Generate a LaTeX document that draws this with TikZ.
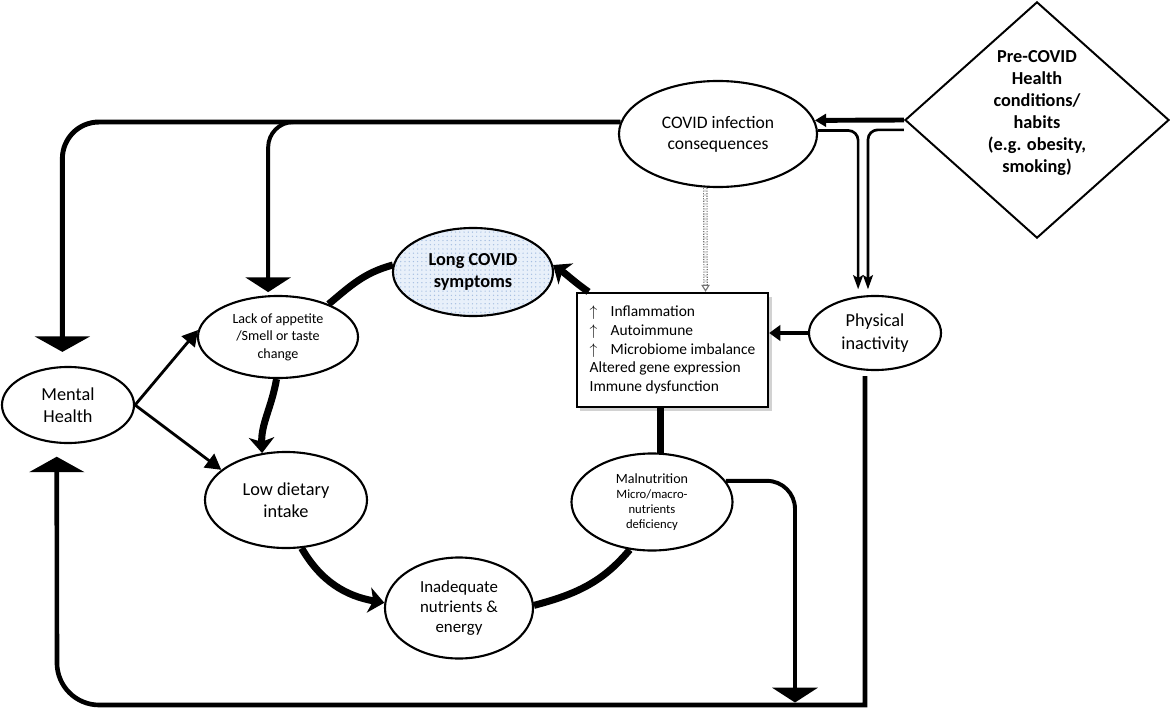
\documentclass[tikz,border=0pt]{standalone}
\usepackage{fontspec}
\setmainfont{Carlito}
\usetikzlibrary{shapes.geometric, arrows.meta, shadows, patterns}
\definecolor{dotblue}{RGB}{232,240,250}
\definecolor{dotdark}{RGB}{165,190,225}
\tikzstyle{bubble} = [ellipse, draw=black, line width=1.5pt, fill=white, align=center, inner sep=0pt, font=\fontsize{13}{15.6}\selectfont]
\tikzstyle{bubblelong} = [bubble, preaction={fill=dotblue}, pattern=dots, pattern color=dotdark, font=\bfseries\fontsize{13}{15.6}\selectfont]
\tikzstyle{riskbox} = [diamond, draw=black, line width=1.4pt, fill=white, align=center, inner sep=0pt, minimum width=6.6cm, minimum height=5.9cm, font=\bfseries\fontsize{13}{15.6}\selectfont]
\tikzstyle{infobox} = [rectangle, draw=black, line width=1.6pt, fill=white, align=left, inner sep=0pt, minimum width=4.775cm, minimum height=2.85cm, drop shadow={shadow xshift=2.5pt, shadow yshift=-2.5pt, fill=gray!70}, font=\fontsize{11}{13.3}\selectfont]
\tikzstyle{feed} = [line width=3.5pt, -{Triangle[width=39pt,length=11pt]}]
\tikzstyle{branch} = [line width=2.8pt, -{Triangle[width=32pt,length=10.5pt]}]
\tikzstyle{cycle} = [line width=5pt]
\tikzstyle{cyclearrow} = [cycle, -{Stealth[length=11pt,width=18pt,inset=3pt]}]
\tikzstyle{arrow} = [line width=2pt, -{Triangle[length=11pt,width=12pt]}]
\tikzstyle{pair} = [line width=1.9pt, rounded corners=7pt, -{Stealth[length=10pt,width=7pt,inset=2pt]}]
\tikzstyle{push} = [line width=3.5pt, -{Triangle[length=8pt,width=9pt]}]
\tikzstyle{hint} = [draw=black!55, densely dotted, line width=0.8pt, double=white, double distance=1.6pt, -{Triangle[open,length=5pt,width=6pt]}]
\newcommand{\up}{\makebox[0.525cm][l]{$\uparrow$}}

\begin{document}
\begin{tikzpicture}[x=0.025cm, y=0.025cm]
\useasboundingbox (0,0) rectangle (1170,713);

\node (pre) [riskbox] at (1037,593) {Pre-COVID\\Health\\conditions/\\habits\\(e.g. obesity,\\smoking)\\[-4pt]\mbox{}};
\node (covid) [bubble, minimum width=4.95cm, minimum height=2.65cm, font=\fontsize{12.5}{15}\selectfont] at (718,579) {COVID infection\\consequences};
\node (longcovid) [bubblelong, minimum width=4cm, minimum height=2.2cm] at (473,441) {Long COVID\\symptoms};
\node (lack) [bubble, minimum width=4cm, minimum height=2.05cm, font=\fontsize{10}{12.4}\selectfont] at (278,376) {Lack of appetite\\/Smell or taste\\change};
\node (mental) [bubble, minimum width=3.3cm, minimum height=1.9cm] at (68,308) {Mental\\Health};
\node (low) [bubble, minimum width=4.05cm, minimum height=2.4cm] at (286,213) {Low dietary\\intake};
\node (inadequate) [bubble, minimum width=3.7cm, minimum height=2.525cm, font=\fontsize{12}{14.2}\selectfont] at (459,105) {Inadequate\\nutrients \&\\energy};
\node (malnut) [bubble, minimum width=4.025cm, minimum height=2.425cm, font=\fontsize{9}{10.8}\selectfont] at (652,211) {{\fontsize{10}{12}\selectfont Malnutrition}\\Micro/macro-\\nutrients\\deficiency};
\node (physical) [bubble, minimum width=3.3cm, minimum height=1.85cm, font=\fontsize{13}{16}\selectfont] at (875,380) {Physical\\inactivity};
\node (box) [infobox] at (672.5,363) {\up Inflammation\\\up Autoimmune\\\up Microbiome imbalance\\Altered gene expression\\Immune dysfunction};

\coordinate (floor) at (57,8);
\coordinate (maldrop) at (795,10.5);

\draw [push] (pre.west) -- (covid.8);
\draw [feed, rounded corners=26pt] (covid.173) -| ([xshift=-4pt,yshift=10pt]mental.north);
\draw [branch, rounded corners=18pt] (covid.173) -| ([xshift=-7pt,yshift=2pt]lack.north);
\draw [pair] (covid.2) -| ([xshift=-12pt,yshift=4pt]physical.north);
\draw [pair] ([yshift=-7pt]pre.west) -| ([xshift=-5pt,yshift=4pt]physical.north);
\draw [hint] ([xshift=-9pt]covid.south) -- ([xshift=23.5pt]box.north);
\draw [push, -{Triangle[length=8pt,width=11pt]}] (physical.west) -- (physical.west -| box.east);
\draw [arrow] (mental.east) -- (lack.175);
\draw [arrow] (mental.east) -- (low.155);
\draw [cyclearrow] (lack.268) to[out=-100, in=92] (low.117);
\draw [cyclearrow] (low.-72) to[out=-60, in=170] (inadequate.176);
\draw [cycle] (inadequate.2) to[out=15, in=-130] (malnut.-115);
\draw [cycle] (malnut.80) -- (malnut.80 |- box.south);
\draw [cyclearrow] ([xshift=9pt]box.north west) to[out=145, in=-35] (longcovid.5);
\draw [cycle] (longcovid.175) to[out=195, in=40] (lack.33);
\draw [branch, rounded corners=20pt] (malnut.16) -| (maldrop);
\draw [feed, line width=3.3pt] (physical.south) ++(-10,-5) coordinate (pdown) -- (pdown |- floor) [rounded corners=30pt] -- (floor) -- ([xshift=-8pt,yshift=-9pt]mental.south);

\end{tikzpicture}
\end{document}
